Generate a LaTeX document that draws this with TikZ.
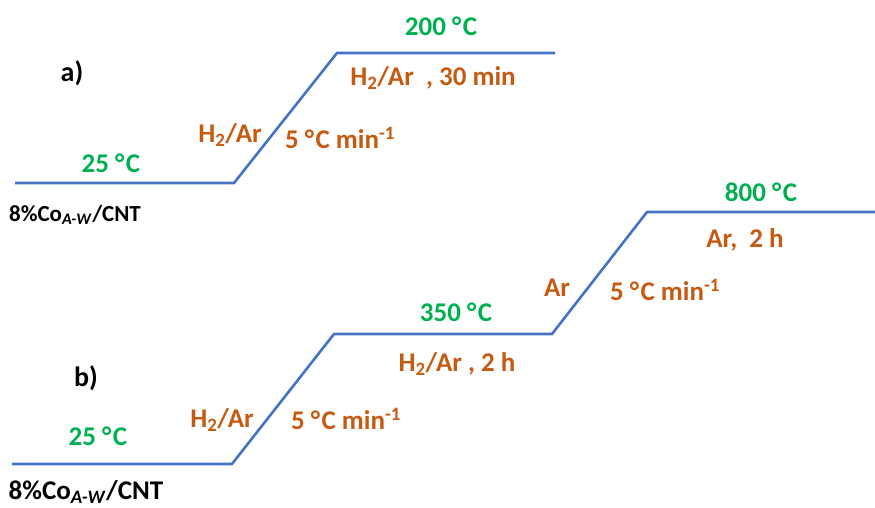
\documentclass[tikz,border=0pt]{standalone}
\usepackage{fontspec}
\setmainfont{Carlito}
\usepackage{tikz}
\usetikzlibrary{positioning}
\definecolor{profblue}{HTML}{4472C4}
\definecolor{suhugreen}{HTML}{00B050}
\definecolor{gasorange}{HTML}{C55A11}
\newcommand{\dC}{°\kern1.5pt C}

\begin{document}
\begin{tikzpicture}[
			x=1pt, y=-1pt,
			profil/.style={draw=profblue, line width=2.6pt, line join=miter},
			suhu/.style={inner sep=0pt, font=\fontsize{27}{32}\selectfont\bfseries, text=suhugreen},
			gas/.style={inner sep=0pt, font=\fontsize{27}{32}\selectfont\bfseries, text=gasorange},
			huruf/.style={inner sep=0pt, font=\fontsize{28}{32}\selectfont\bfseries},
			sampel/.style={inner sep=0pt, font=\fontsize{#1}{32}\selectfont\bfseries}
		]
		\useasboundingbox (0,0) rectangle (875,508);

		% Profil a)
		\coordinate (a0) at (15,183);
		\coordinate (a1) at (234,183);
		\coordinate (a2) at (337,53);
		\coordinate (a3) at (555,53);
		\draw[profil] (a0) -- (a1) -- (a2) -- (a3);

		% Profil b)
		\coordinate (b0) at (12,464);
		\coordinate (b1) at (232,464);
		\coordinate (b2) at (334,334);
		\coordinate (b3) at (552,334);
		\coordinate (b4) at (647,212);
		\coordinate (b5) at (875,212);
		\draw[profil] (b0) -- (b1) -- (b2) -- (b3) -- (b4) -- (b5);

		% Label a)
		\node[huruf] (hurufa) at (72,73) {a)};
		\node[suhu] (a25) at (111,163) {25 \dC};
		\node[suhu] (a200) at (441,26) {200 \dC};
		\node[gas] (agas) at (230,135) {H\textsubscript{2}/Ar};
		\node[gas] (alaju) at (340,138) {5 \dC{} min\textsuperscript{-1}};
		\node[gas] (atahan) at (433,78) {H\textsubscript{2}/Ar~ , 30 min};
		\node[sampel=23] (asampel) at (75,215) {8\%Co\textsubscript{\textit{A-W}}/CNT};

		% Label b)
		\node[huruf] (hurufb) at (86,378) {b)};
		\node[suhu] (b25) at (98,436) {25 \dC};
		\node[suhu] (b350) at (456,312) {350 \dC};
		\node[suhu] (b800) at (761,192) {800 \dC};
		\node[gas] (bgas1) at (222,420) {H\textsubscript{2}/Ar};
		\node[gas] (blaju1) at (346,419) {5 \dC{} min\textsuperscript{-1}};
		\node[gas] (btahan1) at (457,364) {H\textsubscript{2}/Ar , 2 h};
		\node[gas] (bgas2) at (557,288) {Ar};
		\node[gas] (blaju2) at (665,290) {5 \dC{} min\textsuperscript{-1}};
		\node[gas] (btahan2) at (745,240) {Ar,~ 2 h};
		\node[sampel=27] (bsampel) at (86,492) {8\%Co\textsubscript{\textit{A-W}}/CNT};
	\end{tikzpicture}
\end{document}
